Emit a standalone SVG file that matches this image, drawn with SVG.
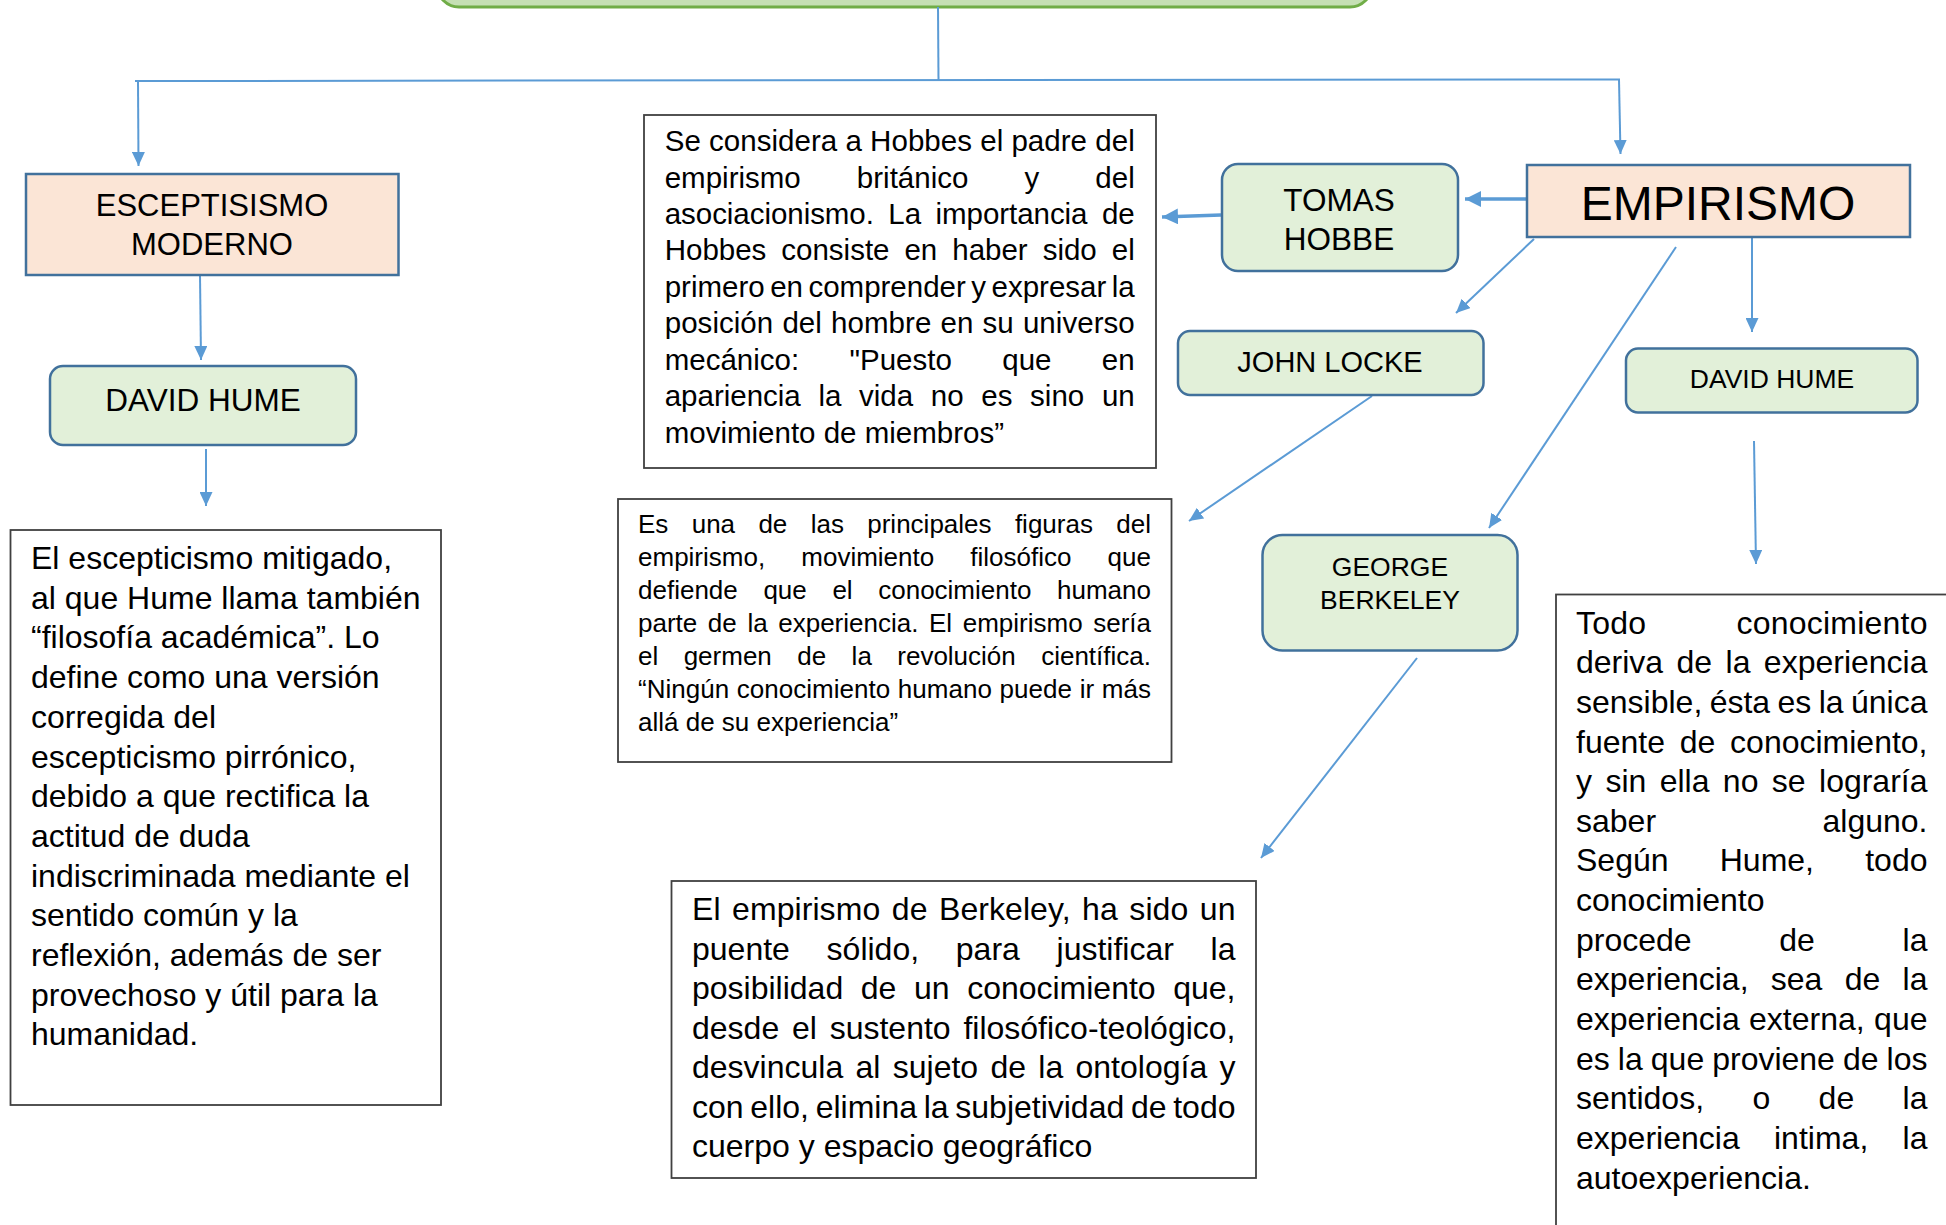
<svg xmlns="http://www.w3.org/2000/svg" width="1946" height="1225" viewBox="0 0 1946 1225">
<style>
text{font-family:"Liberation Sans",Arial,sans-serif;fill:#000}
.ng{fill:#e2f0d9;stroke:#41719c;stroke-width:2.5}
.np{fill:#fbe5d6;stroke:#41719c;stroke-width:2.5}
.box{fill:#fff;stroke:#404040;stroke-width:1.8}
.conn{stroke:#5b9bd5;stroke-width:2;fill:none}
.thick{stroke-width:3.5}
.c{text-anchor:middle}
</style>
<defs>
<marker id="ah" markerUnits="userSpaceOnUse" markerWidth="14" markerHeight="13" viewBox="0 0 14 13" refX="14" refY="6.5" orient="auto"><path d="M0,0 L14,6.5 L0,13 z" fill="#5b9bd5"/></marker>
<marker id="ahb" markerUnits="userSpaceOnUse" markerWidth="16" markerHeight="16" viewBox="0 0 16 16" refX="16" refY="8" orient="auto"><path d="M0,0 L16,8 L0,16 z" fill="#5b9bd5"/></marker>
</defs>
<rect width="1946" height="1225" fill="#fff"/>

<g id="top">
<rect x="437" y="-60" width="935" height="67" rx="22" fill="#c5e0b4" stroke="#70ad47" stroke-width="3"/>
</g>

<g id="connectors">
<line class="conn" x1="938" y1="7" x2="938.5" y2="81"/>
<line class="conn" x1="135" y1="81" x2="1620" y2="79.5"/>
<line class="conn" x1="138" y1="81" x2="138.5" y2="166" marker-end="url(#ah)"/>
<line class="conn" x1="1619" y1="80" x2="1620.5" y2="154" marker-end="url(#ah)"/>
<line class="conn" x1="200" y1="275" x2="201" y2="360" marker-end="url(#ah)"/>
<line class="conn" x1="206" y1="449" x2="206" y2="506" marker-end="url(#ah)"/>
<line class="conn thick" x1="1527" y1="199" x2="1465" y2="199" marker-end="url(#ahb)"/>
<line class="conn thick" x1="1221" y1="215" x2="1162" y2="217" marker-end="url(#ahb)"/>
<line class="conn" x1="1534" y1="239" x2="1456" y2="313" marker-end="url(#ah)"/>
<line class="conn" x1="1676" y1="247" x2="1489" y2="528" marker-end="url(#ah)"/>
<line class="conn" x1="1752" y1="237" x2="1752" y2="332" marker-end="url(#ah)"/>
<line class="conn" x1="1754" y1="441" x2="1756" y2="564" marker-end="url(#ah)"/>
<line class="conn" x1="1372" y1="396" x2="1189" y2="521" marker-end="url(#ah)"/>
<line class="conn" x1="1417" y1="658" x2="1261" y2="858" marker-end="url(#ah)"/>
</g>

<g id="esceptisismo">
<rect class="np" x="26" y="174" width="372.5" height="101"/>
<text class="c" x="212" y="216" font-size="31">ESCEPTISISMO</text>
<text class="c" x="212" y="255" font-size="31">MODERNO</text>
</g>

<g id="hume-left">
<rect class="ng" x="50" y="366" width="306" height="79" rx="13"/>
<text class="c" x="203" y="411" font-size="31.5">DAVID HUME</text>
</g>

<g id="hume-left-text">
<rect class="box" x="10.5" y="530" width="430.5" height="575"/>
<g font-size="32">
<text x="31" y="569">El escepticismo mitigado,</text>
<text x="31" y="608.7">al que Hume llama también</text>
<text x="31" y="648.4">“filosofía académica”. Lo</text>
<text x="31" y="688.1">define como una versión</text>
<text x="31" y="727.8">corregida del</text>
<text x="31" y="767.5">escepticismo pirrónico,</text>
<text x="31" y="807.2">debido a que rectifica la</text>
<text x="31" y="846.9">actitud de duda</text>
<text x="31" y="886.6">indiscriminada mediante el</text>
<text x="31" y="926.3">sentido común y la</text>
<text x="31" y="966">reflexión, además de ser</text>
<text x="31" y="1005.7">provechoso y útil para la</text>
<text x="31" y="1045.4">humanidad.</text>
</g>
</g>

<g id="empirismo">
<rect class="np" x="1527" y="165" width="383" height="72"/>
<text class="c" x="1718" y="220" font-size="48">EMPIRISMO</text>
</g>

<g id="tomas-hobbe">
<rect class="ng" x="1222" y="164" width="236" height="107" rx="16"/>
<text class="c" x="1339" y="211" font-size="31.5">TOMAS</text>
<text class="c" x="1339" y="250" font-size="31.5">HOBBE</text>
</g>

<g id="hobbes-text">
<rect class="box" x="644" y="115" width="512" height="353"/>
<g font-size="29.5">
<text x="664.7" y="151" textLength="470" lengthAdjust="spacing">Se considera a Hobbes el padre del</text>
<text x="664.7" y="187.5" word-spacing="47.9" textLength="470" lengthAdjust="spacing">empirismo británico y del</text>
<text x="664.7" y="223.9" word-spacing="6.3" textLength="470" lengthAdjust="spacing">asociacionismo. La importancia de</text>
<text x="664.7" y="260.4" word-spacing="6.8" textLength="470" lengthAdjust="spacing">Hobbes consiste en haber sido el</text>
<text x="664.7" y="296.8" word-spacing="-2.7" textLength="470" lengthAdjust="spacing">primero en comprender y expresar la</text>
<text x="664.7" y="333.3" word-spacing="0.9" textLength="470" lengthAdjust="spacing">posición del hombre en su universo</text>
<text x="664.7" y="369.7" word-spacing="42.2" textLength="470" lengthAdjust="spacing">mecánico: "Puesto que en</text>
<text x="664.7" y="406.2" word-spacing="9.5" textLength="470" lengthAdjust="spacing">apariencia la vida no es sino un</text>
<text x="664.7" y="442.6">movimiento de miembros”</text>
</g>
</g>

<g id="john-locke">
<rect class="ng" x="1178" y="331" width="305.5" height="64" rx="12"/>
<text class="c" x="1330" y="371.5" font-size="29">JOHN LOCKE</text>
</g>

<g id="locke-text">
<rect class="box" x="618" y="499" width="553.5" height="263"/>
<g font-size="26">
<text x="638" y="533" word-spacing="16.1" textLength="513" lengthAdjust="spacing">Es una de las principales figuras del</text>
<text x="638" y="566" word-spacing="28.9" textLength="513" lengthAdjust="spacing">empirismo, movimiento filosófico que</text>
<text x="638" y="599" word-spacing="18.4" textLength="513" lengthAdjust="spacing">defiende que el conocimiento humano</text>
<text x="638" y="632" word-spacing="3.4" textLength="513" lengthAdjust="spacing">parte de la experiencia. El empirismo sería</text>
<text x="638" y="665" word-spacing="18.2" textLength="513" lengthAdjust="spacing">el germen de la revolución científica.</text>
<text x="638" y="698" word-spacing="0.5" textLength="513" lengthAdjust="spacing">“Ningún conocimiento humano puede ir más</text>
<text x="638" y="731">allá de su experiencia”</text>
</g>
</g>

<g id="david-hume-right">
<rect class="ng" x="1626" y="348.5" width="291.5" height="64" rx="12"/>
<text class="c" x="1772" y="388" font-size="26.5">DAVID HUME</text>
</g>

<g id="george-berkeley">
<rect class="ng" x="1262.5" y="535" width="255" height="115.5" rx="20"/>
<text class="c" x="1390" y="576" font-size="26.5">GEORGE</text>
<text class="c" x="1390" y="609" font-size="26.5">BERKELEY</text>
</g>

<g id="berkeley-text">
<rect class="box" x="671.5" y="881" width="584.5" height="297"/>
<g font-size="32">
<text x="692" y="920" word-spacing="2.55" textLength="543.5" lengthAdjust="spacing">El empirismo de Berkeley, ha sido un</text>
<text x="692" y="959.5" word-spacing="27.8" textLength="543.5" lengthAdjust="spacing">puente sólido, para justificar la</text>
<text x="692" y="999" word-spacing="8.7" textLength="543.5" lengthAdjust="spacing">posibilidad de un conocimiento que,</text>
<text x="692" y="1038.5" word-spacing="3.9" textLength="543.5" lengthAdjust="spacing">desde el sustento filosófico-teológico,</text>
<text x="692" y="1078" word-spacing="3.4" textLength="543.5" lengthAdjust="spacing">desvincula al sujeto de la ontología y</text>
<text x="692" y="1117.5" word-spacing="-2.2" textLength="543.5" lengthAdjust="spacing">con ello, elimina la subjetividad de todo</text>
<text x="692" y="1157">cuerpo y espacio geográfico</text>
</g>
</g>

<g id="hume-right-text">
<rect class="box" x="1556" y="594.5" width="500" height="700"/>
<g font-size="32">
<text x="1576" y="633.5" word-spacing="81.2" textLength="351.5" lengthAdjust="spacing">Todo conocimiento</text>
<text x="1576" y="673.2" word-spacing="4.5" textLength="351.5" lengthAdjust="spacing">deriva de la experiencia</text>
<text x="1576" y="712.8" word-spacing="-1.5" textLength="351.5" lengthAdjust="spacing">sensible, ésta es la única</text>
<text x="1576" y="752.5" word-spacing="5.9" textLength="351.5" lengthAdjust="spacing">fuente de conocimiento,</text>
<text x="1576" y="792.1" word-spacing="4.5" textLength="351.5" lengthAdjust="spacing">y sin ella no se lograría</text>
<text x="1576" y="831.8" word-spacing="157.6" textLength="351.5" lengthAdjust="spacing">saber alguno.</text>
<text x="1576" y="871.4" word-spacing="42.35" textLength="351.5" lengthAdjust="spacing">Según Hume, todo</text>
<text x="1576" y="911.1">conocimiento</text>
<text x="1576" y="950.7" word-spacing="78.8" textLength="351.5" lengthAdjust="spacing">procede de la</text>
<text x="1576" y="990.4" word-spacing="13.4" textLength="351.5" lengthAdjust="spacing">experiencia, sea de la</text>
<text x="1576" y="1030" word-spacing="0.5" textLength="351.5" lengthAdjust="spacing">experiencia externa, que</text>
<text x="1576" y="1069.7" word-spacing="-0.8" textLength="351.5" lengthAdjust="spacing">es la que proviene de los</text>
<text x="1576" y="1109.3" word-spacing="39.5" textLength="351.5" lengthAdjust="spacing">sentidos, o de la</text>
<text x="1576" y="1149" word-spacing="25.4" textLength="351.5" lengthAdjust="spacing">experiencia intima, la</text>
<text x="1576" y="1188.6">autoexperiencia.</text>
</g>
</g>
</svg>
